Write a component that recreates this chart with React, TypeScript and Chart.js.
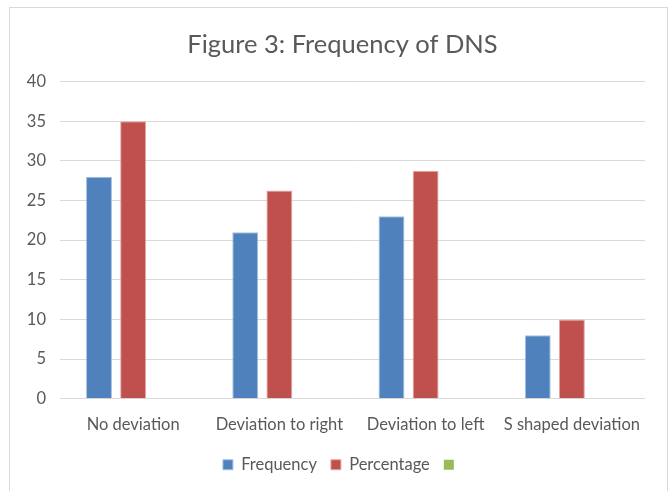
import React, { useEffect, useRef } from "react";
import { Chart, registerables } from "chart.js";

Chart.register(...registerables);

const categories = ["No deviation", "Deviation to right", "Deviation to left", "S shaped deviation"];
const frequency = [28, 21, 23, 8];
const percentage = [35, 26.25, 28.75, 10];
const seriesNames = ["Frequency", "Percentage", ""];

const FONT = "Lato, 'Liberation Sans', sans-serif";

export default function App() {
  const ref = useRef<HTMLCanvasElement | null>(null);
  useEffect(() => {
    document.body.style.margin = "0";
    const chart = new Chart(ref.current!, {
      type: "bar",
      data: {
        labels: categories,
        datasets: [
          { label: seriesNames[0], data: frequency, backgroundColor: "#4f81bd", borderColor: "#a7c0de", borderWidth: 1 },
          { label: seriesNames[1], data: percentage, backgroundColor: "#c0504d", borderColor: "#e0a8a6", borderWidth: 1 },
          { label: seriesNames[2], data: [null, null, null, null], backgroundColor: "#9bbb59", borderColor: "#9bbb59", borderWidth: 0 },
        ],
      },
      options: {
        animation: false,
        responsive: false,
        maintainAspectRatio: false,
        layout: { padding: { left: 40, right: 27, top: 29, bottom: 8 } },
        datasets: { bar: { categoryPercentage: 0.7, barPercentage: 0.76 } },
        plugins: {
          title: {
            display: true,
            text: "Figure 3: Frequency of DNS",
            color: "#595959",
            font: { family: FONT, size: 25.5, weight: "normal" },
            padding: { top: 0, bottom: 22 },
          },
          legend: {
            position: "bottom",
            labels: {
              color: "#595959",
              font: { family: FONT, size: 16.5 },
              boxWidth: 10,
              boxHeight: 10,
              padding: 14,
            },
          },
          tooltip: { enabled: false },
        },
        scales: {
          x: {
            grid: { display: false },
            border: { display: false },
            ticks: { color: "#595959", font: { family: FONT, size: 16.5 }, padding: 8, maxRotation: 0 },
          },
          y: {
            min: 0,
            max: 40,
            grid: { color: "#d9d9d9", drawTicks: false },
            border: { display: false },
            ticks: { stepSize: 5, color: "#595959", font: { family: FONT, size: 16.5 }, padding: 14 },
            afterFit: (scale: any) => {
              scale.width = 20;
              scale._computeLabelArea = () => null;
            },
          },
        },
      },
    });
    return () => chart.destroy();
  }, []);
  return (
    <div style={{ position: "relative", width: 672, height: 491, overflow: "hidden", background: "#fff" }}>
      <canvas ref={ref} width={672} height={491} style={{ position: "absolute", left: 0, top: 0 }} />
      <div
        style={{
          position: "absolute",
          left: 9,
          top: 7,
          width: 657,
          height: 500,
          border: "1px solid #d9d9d9",
          pointerEvents: "none",
        }}
      />
    </div>
  );
}
